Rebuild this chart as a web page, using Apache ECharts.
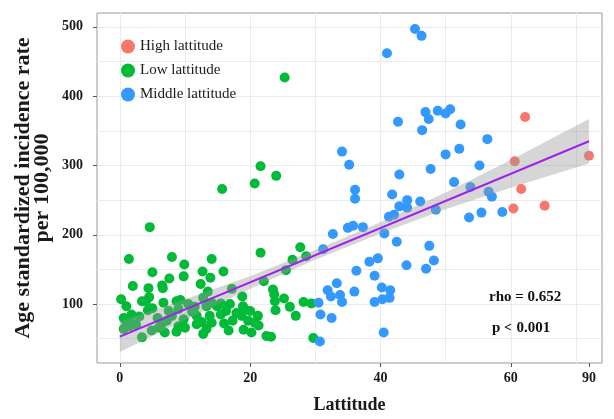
<!DOCTYPE html>
<html>
<head>
<meta charset="utf-8">
<script src="https://cdn.jsdelivr.net/npm/echarts@6/dist/echarts.min.js"></script>
<style>
html, body { margin: 0; padding: 0; background: #fff; }
#chart { width: 614px; height: 419px; }
</style>
</head>
<body>
<div id="chart"></div>
<script>
// 各组数据 [纬度, 发病率]
var highData = [[62.2, 370], [60.6, 306], [61.6, 266], [60.4, 238], [65.2, 242], [72, 314]];

var lowData = [
  [4.6, 211], [1.4, 165], [8.0, 168], [9.9, 157], [14.1, 165], [5.0, 146], [7.6, 137], [9.8, 140],
  [12.7, 147], [13.9, 138], [15.9, 147], [12.4, 129], [2.0, 126], [4.4, 123], [6.5, 127], [6.6, 123],
  [4.5, 110], [0.2, 107], [1.0, 97], [3.4, 104], [4.0, 104], [5.0, 94], [4.3, 91], [6.7, 102],
  [8.7, 104], [9.3, 106], [7.5, 90], [9.0, 93], [1.8, 85], [9.8, 78], [11.1, 89], [12.8, 109],
  [13.3, 97], [14.1, 102], [14.9, 97], [15.5, 101], [17.2, 122], [18.8, 111], [16.9, 100], [16.3, 90],
  [15.5, 85], [13.8, 83], [11.8, 83], [12.6, 74], [14.1, 73], [16.0, 72], [17.3, 76], [17.9, 87],
  [19.0, 92], [20.0, 90], [18.7, 83], [19.7, 76], [19.0, 63], [20.2, 59], [16.7, 62], [13.3, 64],
  [12.8, 57], [11.8, 71], [10.0, 66], [9.0, 68], [8.7, 60], [6.9, 59], [6.4, 71], [7.2, 76],
  [4.9, 62], [3.4, 52], [0.6, 64], [1.0, 74], [1.6, 77], [0.6, 80], [8.0, 83], [21.6, 299],
  [24.0, 285], [20.7, 274], [21.6, 174], [27.7, 182], [28.6, 169], [26.5, 164], [25.5, 149], [22.1, 133],
  [23.5, 121], [23.7, 114], [23.8, 104], [23.9, 91], [25.2, 108], [26.1, 96], [27.0, 83], [28.2, 103],
  [29.4, 101], [29.7, 51], [22.5, 54], [23.2, 53], [18.9, 97], [21.2, 83], [20.7, 73], [21.3, 69],
  [25.3, 427], [15.7, 266], [2.5, 70], [3.0, 82], [1.5, 68], [10.5, 100], [11.5, 96], [5.8, 80],
  [6.0, 66], [13.5, 118]
];

var midData = [
  [45.3, 497], [46.3, 487], [41.0, 462], [46.9, 377], [47.4, 367], [48.8, 379], [50.0, 375], [50.7, 381],
  [42.7, 363], [46.4, 351], [52.3, 359], [34.1, 320], [35.2, 301], [50.0, 316], [52.1, 324], [47.7, 295],
  [42.9, 287], [55.2, 300], [36.1, 265], [36.1, 252], [41.8, 258], [44.1, 250], [51.3, 276], [53.8, 269],
  [46.1, 248], [56.4, 338], [56.6, 262], [57.1, 255], [55.5, 232], [58.7, 233], [53.6, 225], [42.9, 241],
  [44.1, 239], [48.5, 236], [41.3, 226], [42.1, 229], [40.6, 202], [42.5, 190], [47.5, 184], [48.2, 163],
  [47.0, 151], [44.0, 156], [38.3, 161], [39.6, 166], [39.1, 141], [40.2, 124], [41.5, 120], [41.4, 109],
  [40.3, 107], [39.1, 103], [40.5, 59], [35.0, 210], [35.8, 213], [37.3, 211], [32.7, 201], [31.2, 179],
  [36.3, 148], [33.3, 130], [31.9, 120], [32.4, 111], [33.8, 113], [34.1, 103], [36.0, 118], [30.5, 102],
  [30.8, 85], [32.5, 80], [30.7, 46]
];

// 回归线及置信区间
var fitX = [0, 72];
var fitY = [53, 335];
var bandX = [0, 10, 20, 30, 40, 50, 60, 72];
var bandLow = [31, 77, 122, 164, 202, 237, 268, 303];
var bandHigh = [75, 107, 140, 178, 218, 261, 308, 367];

// 刻度
var xTickValues = [0, 20, 40, 60, 72];
var xTickLabels = ['0', '20', '40', '60', '90'];
var xGridValues = [0, 10, 20, 30, 40, 50, 60, 70];
var yTickValues = [100, 200, 300, 400, 500];
var yGridValues = [50, 100, 150, 200, 250, 300, 350, 400, 450, 500];

var serif = '"Liberation Serif", "Times New Roman", serif';
var xMin = -3.5, xMax = 74, yMin = 15, yMax = 520;

var bandData = bandX.map(function (x, i) { return [x, bandLow[i], bandHigh[i]]; });
var fitSeries = fitX.map(function (x, i) { return [x, fitY[i]]; });

// 置信带画成一个多边形
function renderBand(params, api) {
  if (params.dataIndex !== 0) return;
  var upper = [], lower = [];
  for (var i = 0; i < bandData.length; i++) {
    upper.push(api.coord([bandData[i][0], bandData[i][2]]));
    lower.unshift(api.coord([bandData[i][0], bandData[i][1]]));
  }
  return {
    type: 'polygon',
    shape: { points: upper.concat(lower) },
    style: { fill: 'rgba(153,153,153,0.4)' },
    silent: true
  };
}

var myChart = echarts.init(document.getElementById('chart'), null, { renderer: 'canvas' });

var option = {
  animation: false,
  grid: { left: 97, right: 12, top: 13, bottom: 51, show: true, borderColor: '#9a9a9a', borderWidth: 1 },
  legend: {
    data: ['High lattitude', 'Low lattitude', 'Middle lattitude'],
    orient: 'vertical',
    left: 116, top: 34,
    icon: 'circle',
    itemWidth: 14, itemHeight: 14, itemGap: 9,
    textStyle: { fontFamily: serif, fontSize: 15, color: '#1a1a1a' }
  },
  xAxis: [{
    type: 'value', min: xMin, max: xMax, position: 'bottom',
    axisLine: { show: false, onZero: false },
    axisTick: { show: false, customValues: xGridValues },
    splitLine: { show: true, lineStyle: { color: '#ebebeb', width: 1 } },
    axisLabel: {
      customValues: xTickValues,
      formatter: function (v) { var i = xTickValues.indexOf(v); return i >= 0 ? xTickLabels[i] : ''; },
      fontFamily: serif, fontWeight: 'bold', fontSize: 14, color: '#1a1a1a', margin: 8
    },
    name: 'Lattitude', nameLocation: 'middle', nameGap: 33, nameMoveOverlap: false,
    nameTextStyle: { fontFamily: serif, fontWeight: 'bold', fontSize: 18, color: '#1a1a1a' }
  }, {
    type: 'value', min: xMin, max: xMax, position: 'bottom',
    axisLine: { show: false, onZero: false },
    axisTick: { show: true, length: 4, customValues: xTickValues, lineStyle: { color: '#555' } },
    axisLabel: { show: false },
    splitLine: { show: false }
  }],
  yAxis: [{
    type: 'value', min: yMin, max: yMax, position: 'left',
    axisLine: { show: false, onZero: false },
    axisTick: { show: false, customValues: yGridValues },
    splitLine: { show: true, lineStyle: { color: '#ebebeb', width: 1 } },
    axisLabel: {
      customValues: yTickValues,
      fontFamily: serif, fontWeight: 'bold', fontSize: 14, color: '#1a1a1a', margin: 14
    },
    name: 'Age standardized incidence rate\nper 100,000', nameLocation: 'middle', nameGap: 45, nameMoveOverlap: false,
    nameTextStyle: { fontFamily: serif, fontWeight: 'bold', fontSize: 22, color: '#1a1a1a', lineHeight: 19 }
  }, {
    type: 'value', min: yMin, max: yMax, position: 'left',
    axisLine: { show: false, onZero: false },
    axisTick: { show: true, length: 4, customValues: yTickValues, lineStyle: { color: '#555' } },
    axisLabel: { show: false },
    splitLine: { show: false }
  }],
  graphic: [
    { type: 'text', left: 489, top: 290, style: { text: 'rho = 0.652', font: 'bold 15px ' + serif, fill: '#111' } },
    { type: 'text', left: 492, top: 321, style: { text: 'p < 0.001', font: 'bold 15px ' + serif, fill: '#111' } }
  ],
  series: [
    { name: 'Low lattitude', type: 'scatter', data: lowData, symbolSize: 10, itemStyle: { color: '#00BA38', opacity: 1 } },
    { name: 'Middle lattitude', type: 'scatter', data: midData, symbolSize: 10, itemStyle: { color: '#3399FF', opacity: 1 } },
    { name: 'High lattitude', type: 'scatter', data: highData, symbolSize: 10, itemStyle: { color: '#F8766D', opacity: 1 } },
    {
      type: 'custom', data: bandData, renderItem: renderBand,
      encode: { x: 0, y: [1, 2] }, silent: true, z: 3
    },
    {
      type: 'line', data: fitSeries, symbol: 'none', silent: true, z: 4,
      lineStyle: { color: '#A020F0', width: 2 }
    }
  ]
};

myChart.setOption(option);
</script>
</body>
</html>
